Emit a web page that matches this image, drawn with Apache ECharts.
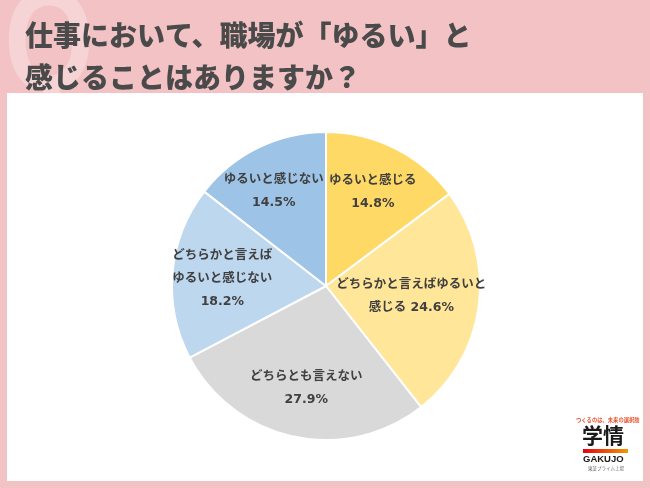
<!DOCTYPE html>
<html><head><meta charset="utf-8">
<script src="https://cdn.jsdelivr.net/npm/echarts@6/dist/echarts.min.js"></script>
<style>html,body{margin:0;padding:0;background:#F2C2C4}#c{width:650px;height:488px}</style>
</head><body><div id="c"></div>
<script>
var titleLines = ['仕事において、職場が「ゆるい」と', '感じることはありますか？'];
var categories = ['ゆるいと感じる', 'どちらかと言えばゆるいと感じる', 'どちらとも言えない', 'どちらかと言えばゆるいと感じない', 'ゆるいと感じない'];
var values = [14.8, 24.6, 27.9, 18.2, 14.5];
var labelTemplates = ['ゆるいと感じる\n{v}%', 'どちらかと言えばゆるいと\n感じる {v}%', 'どちらとも言えない\n{v}%', 'どちらかと言えば\nゆるいと感じない\n{v}%', 'ゆるいと感じない\n{v}%'];
var colors = ['#FFD966', '#FFE699', '#D9D9D9', '#BDD7EE', '#9DC3E6'];
var labelNudge = [[11, -22], [6, 0], [-3, 24], [-24, 0], [-17, -23]];

var chart = echarts.init(document.getElementById('c'));
var jp = "'DejaVu Sans', 'Noto Sans CJK JP', sans-serif";
chart.setOption({
  backgroundColor: '#F2C2C4',
  animation: false,
  title: {
    text: titleLines.join('\n'),
    left: 20, top: 9,
    textStyle: { fontFamily: "'Noto Sans CJK JP', sans-serif", fontWeight: 900, fontSize: 28, lineHeight: 42, color: '#4A4A4A' }
  },
  graphic: [
    { type: 'text', z: -10, x: 4, y: -22, scaleX: 0.8, style: { text: 'Q', font: 'bold 145px "Liberation Sans", sans-serif', fill: '#F6D3D5' } },
    { type: 'rect', z: -5, shape: { x: 7, y: 93, width: 636, height: 388 }, style: { fill: '#FFFFFF' } },
    { type: 'text', z: 10, left: 576, top: 417, style: { text: 'つくるのは、未来の選択肢', font: 'bold 5.3px "Noto Sans CJK JP"', fill: '#E8502A' } },
    { type: 'text', z: 10, left: 582, top: 425, style: { text: '学情', font: 'bold 21px "Noto Sans CJK JP"', fill: '#1A1A1A' } },
    { type: 'rect', z: 10, shape: { x: 583, y: 449, width: 45, height: 4 }, style: { fill: new echarts.graphic.LinearGradient(0, 0, 1, 0, [{ offset: 0, color: '#E60012' }, { offset: 1, color: '#F39800' }]) } },
    { type: 'text', z: 10, left: 583, top: 454, style: { text: 'GAKUJO', font: 'bold 9.5px "Liberation Sans"', fill: '#1A1A1A' } },
    { type: 'text', z: 10, left: 588, top: 466, style: { text: '東証プライム上場', font: '4.5px "Noto Sans CJK JP"', fill: '#666666' } }
  ],
  series: [{
    type: 'pie',
    center: [326, 286],
    radius: 154,
    startAngle: 90,
    clockwise: true,
    silent: true,
    itemStyle: { borderColor: '#FFFFFF', borderWidth: 2 },
    label: {
      show: true, position: 'inside',
      color: '#404040', fontWeight: 'bold', fontSize: 12.5, lineHeight: 23, fontFamily: jp, align: 'center',
      formatter: function (p) { return labelTemplates[p.dataIndex].replace('{v}', values[p.dataIndex].toFixed(1)); }
    },
    labelLine: { show: false },
    labelLayout: function (p) { return { dx: labelNudge[p.dataIndex][0], dy: labelNudge[p.dataIndex][1] }; },
    data: categories.map(function (c, i) { return { name: c, value: values[i], itemStyle: { color: colors[i] } }; })
  }]
});
</script></body></html>
